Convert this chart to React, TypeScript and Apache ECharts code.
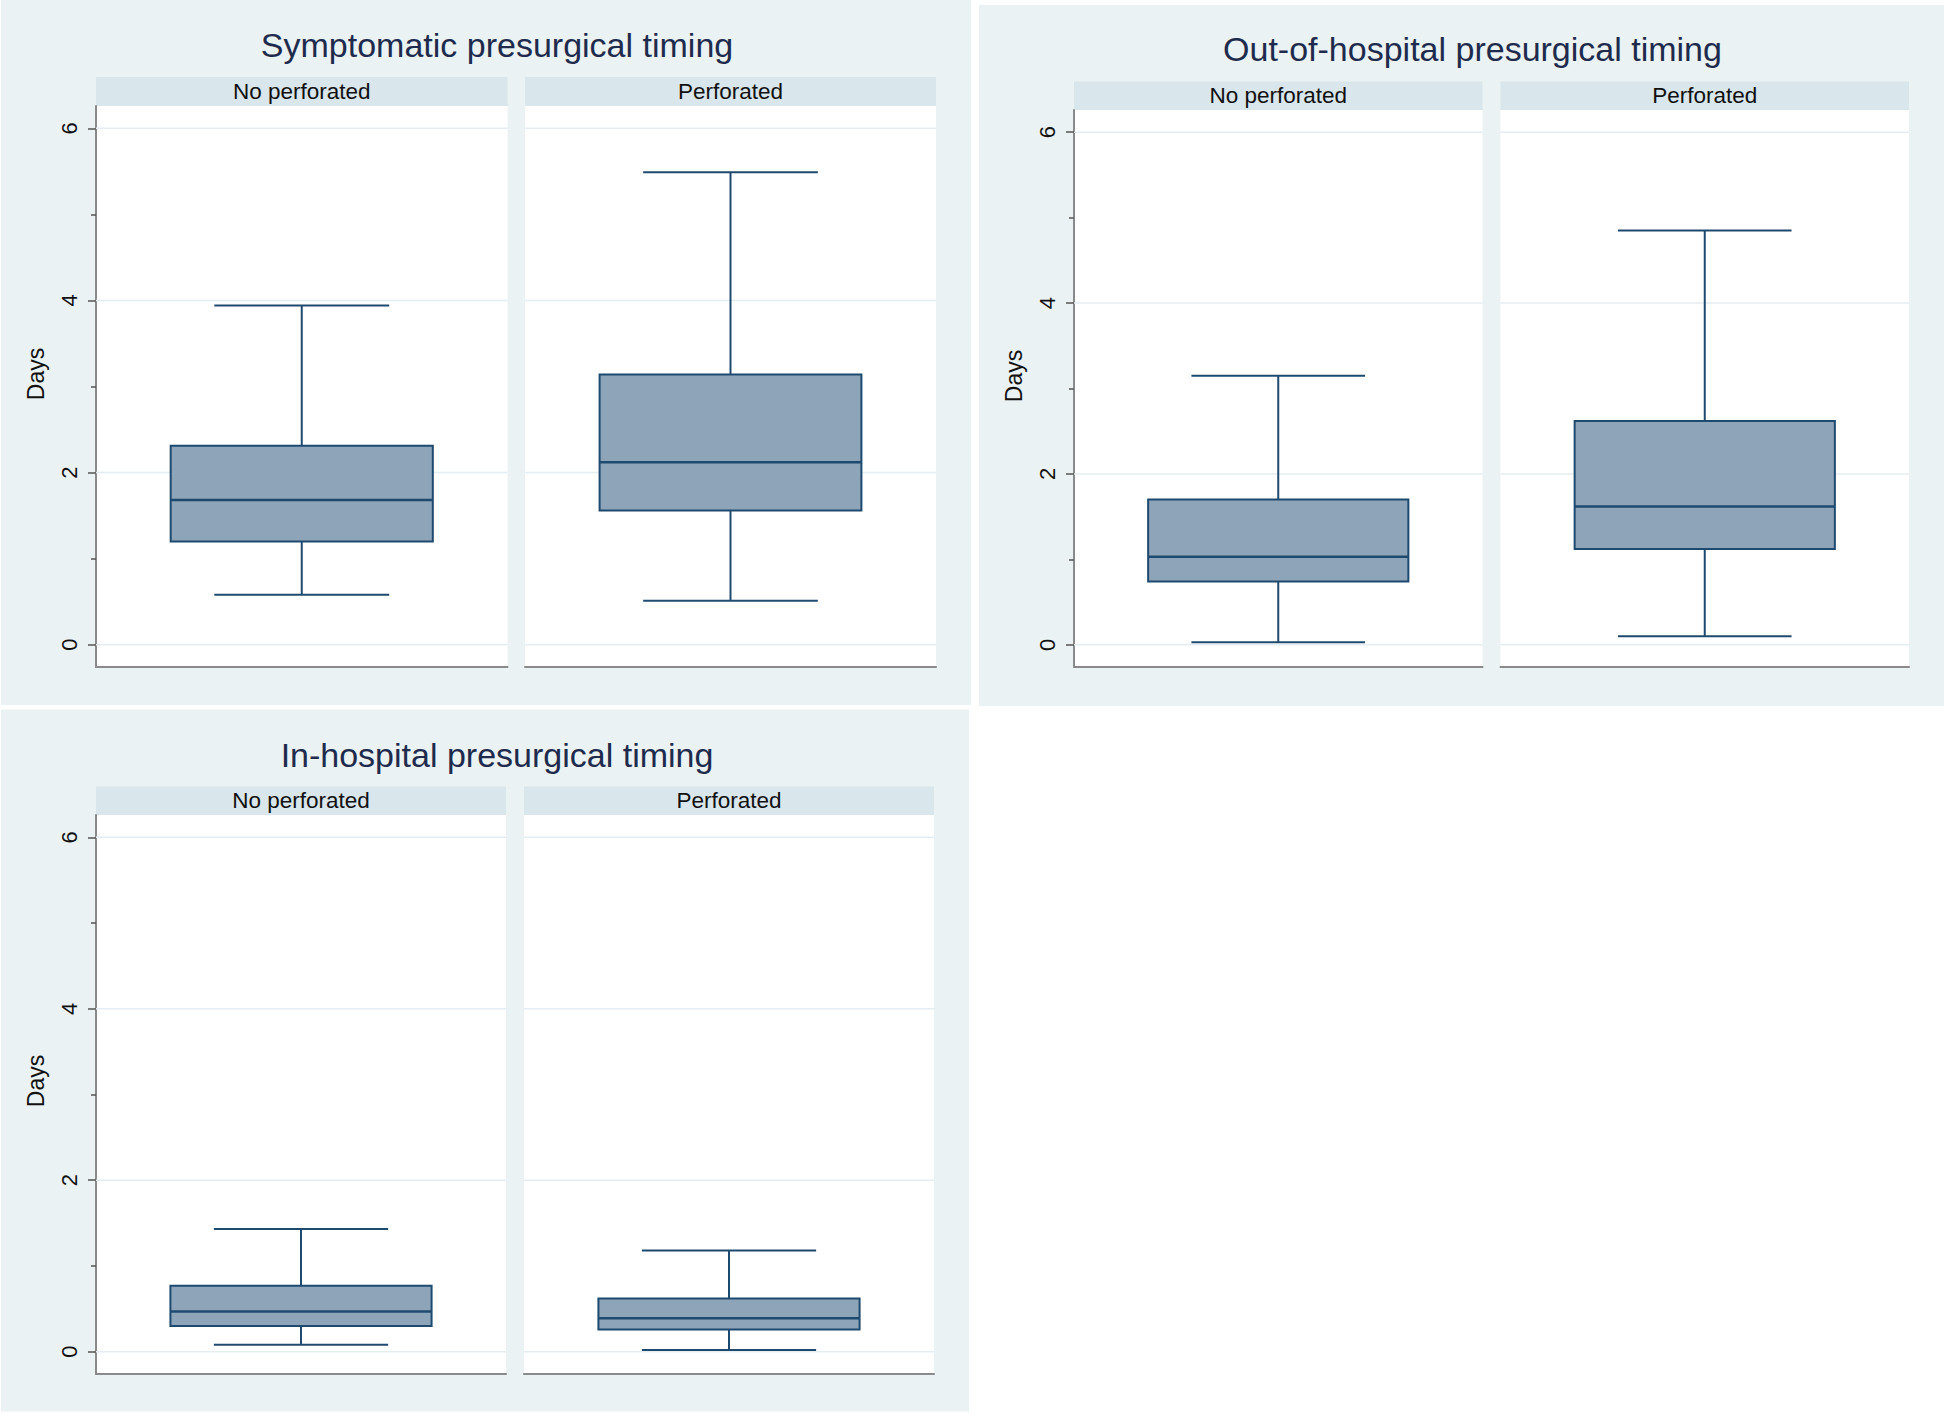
import React, { useEffect, useRef } from 'react';
import * as echarts from 'echarts';

// ---------- data ----------
const categories = ['No perforated', 'Perforated'];
const panelTitles = [
  'Symptomatic presurgical timing',
  'Out-of-hospital presurgical timing',
  'In-hospital presurgical timing',
];
// [lower whisker, Q1, median, Q3, upper whisker] in days
const symptomaticNoPerf = [0.58, 1.2, 1.68, 2.31, 3.94];
const symptomaticPerf = [0.51, 1.56, 2.12, 3.14, 5.49];
const outHospitalNoPerf = [0.03, 0.74, 1.03, 1.7, 3.15];
const outHospitalPerf = [0.1, 1.12, 1.62, 2.62, 4.85];
const inHospitalNoPerf = [0.08, 0.3, 0.47, 0.77, 1.43];
const inHospitalPerf = [0.02, 0.26, 0.39, 0.62, 1.18];
const yTickValues = [0, 2, 4, 6];
const yMinorTickValues = [1, 3, 5];
const yAxisTitle = 'Days';
const yMin = -0.26;
const yMax = 6.26;

// ---------- styles / layout ----------
const FONT = '"Liberation Sans", Arial, sans-serif';
const PANEL_BG = '#eaf2f3';
const STRIP_BG = '#d9e6eb';
const GRID_LINE = '#e4edf1';
const AXIS_LINE = '#8a8a8a';
const BOX_FILL = '#8ea4b8';
const BOX_LINE = '#1f4a6f';
const TITLE_COLOR = '#1e2b4d';

const layout = [
  { bg: [1, 0, 970, 705], titleX: 497, titleY: 45, stripTop: 77, plotTop: 106, plotBottom: 667, subs: [[96, 507.5], [525, 936]], daysX: 36, daysY: 374 },
  { bg: [979, 5, 965, 701], titleX: 1472.5, titleY: 49, stripTop: 81.5, plotTop: 110, plotBottom: 667, subs: [[1074, 1482.5], [1500.5, 1909]], daysX: 1014, daysY: 376 },
  { bg: [1, 709.5, 968, 702], titleX: 497, titleY: 755, stripTop: 786.5, plotTop: 815, plotBottom: 1374, subs: [[96, 506], [524, 934]], daysX: 36, daysY: 1081 },
];

const boxes = [
  [symptomaticNoPerf, symptomaticPerf],
  [outHospitalNoPerf, outHospitalPerf],
  [inHospitalNoPerf, inHospitalPerf],
];

const renderBox = (params: any, api: any) => {
  const xi = api.value(0);
  const lo = api.coord([xi, api.value(1)]);
  const q1 = api.coord([xi, api.value(2)]);
  const md = api.coord([xi, api.value(3)]);
  const q3 = api.coord([xi, api.value(4)]);
  const hi = api.coord([xi, api.value(5)]);
  const band = api.size([1, 0])[0];
  const bw = band * 0.637;
  const cw = band * 0.425;
  const cx = md[0];
  const cs = params.coordSys;
  const children: any[] = [];
  yTickValues.forEach((v) => {
    const p = api.coord([xi, v]);
    children.push({
      type: 'line',
      shape: { x1: cs.x, y1: p[1], x2: cs.x + cs.width, y2: p[1] },
      style: { stroke: GRID_LINE, lineWidth: 1.5 },
    });
  });
  const ls = { stroke: BOX_LINE, lineWidth: 2 };
  children.push({ type: 'line', shape: { x1: cx, y1: q3[1], x2: cx, y2: hi[1] }, style: ls });
  children.push({ type: 'line', shape: { x1: cx, y1: q1[1], x2: cx, y2: lo[1] }, style: ls });
  children.push({ type: 'line', shape: { x1: cx - cw / 2, y1: hi[1], x2: cx + cw / 2, y2: hi[1] }, style: ls });
  children.push({ type: 'line', shape: { x1: cx - cw / 2, y1: lo[1], x2: cx + cw / 2, y2: lo[1] }, style: ls });
  children.push({
    type: 'rect',
    shape: { x: cx - bw / 2, y: q3[1], width: bw, height: q1[1] - q3[1] },
    style: { fill: BOX_FILL, stroke: BOX_LINE, lineWidth: 2 },
  });
  children.push({ type: 'line', shape: { x1: cx - bw / 2, y1: md[1], x2: cx + bw / 2, y2: md[1] }, style: { stroke: BOX_LINE, lineWidth: 2.5 } });
  return { type: 'group', children };
};

function buildOption() {
  const grids: any[] = [];
  const xAxes: any[] = [];
  const yAxes: any[] = [];
  const series: any[] = [];
  const elements: any[] = [];
  const minorAxes: any[] = [];

  layout.forEach((p, pi) => {
    elements.push({
      type: 'rect',
      z: -10,
      shape: { x: p.bg[0], y: p.bg[1], width: p.bg[2], height: p.bg[3] },
      style: { fill: PANEL_BG },
    });
    elements.push({
      type: 'text',
      z: 10,
      x: p.titleX,
      y: p.titleY,
      style: {
        text: panelTitles[pi], fill: TITLE_COLOR, fontSize: 34, fontFamily: FONT,
        align: 'center', verticalAlign: 'middle', textAlign: 'center', textVerticalAlign: 'middle',
      },
    });
    elements.push({
      type: 'text',
      z: 10,
      x: p.daysX,
      y: p.daysY,
      rotation: Math.PI / 2,
      style: {
        text: yAxisTitle, fill: '#111', fontSize: 23, fontFamily: FONT,
        align: 'center', verticalAlign: 'middle', textAlign: 'center', textVerticalAlign: 'middle',
      },
    });
    p.subs.forEach((s, si) => {
      const g = pi * 2 + si;
      elements.push({
        type: 'rect',
        z: -5,
        shape: { x: s[0], y: p.stripTop, width: s[1] - s[0], height: p.plotTop - p.stripTop },
        style: { fill: STRIP_BG },
      });
      elements.push({
        type: 'text',
        z: 10,
        x: (s[0] + s[1]) / 2,
        y: (p.stripTop + p.plotTop) / 2,
        style: {
          text: categories[si], fill: '#111', fontSize: 22.5, fontFamily: FONT,
          align: 'center', verticalAlign: 'middle', textAlign: 'center', textVerticalAlign: 'middle',
        },
      });
      grids.push({
        left: s[0], top: p.plotTop, width: s[1] - s[0], height: p.plotBottom - p.plotTop,
        show: true, backgroundColor: '#ffffff', borderWidth: 0,
      });
      xAxes.push({
        type: 'category', gridIndex: g, data: [categories[si]], boundaryGap: true,
        axisLine: { show: true, onZero: false, lineStyle: { color: AXIS_LINE, width: 2 } },
        axisTick: { show: false }, axisLabel: { show: false }, splitLine: { show: false },
      });
      yAxes.push({
        type: 'value', gridIndex: g, min: yMin, max: yMax, show: si === 0, position: 'left',
        axisLine: { show: true, onZero: false, lineStyle: { color: AXIS_LINE, width: 2 } },
        axisTick: { show: true, customValues: yTickValues, length: 8, lineStyle: { color: '#555', width: 1.5 } },
        axisLabel: { show: true, customValues: yTickValues, rotate: 90, margin: 16, fontSize: 22, color: '#111', fontFamily: FONT },
        splitLine: { show: false },
      });
      if (si === 0) {
        minorAxes.push({
          type: 'value', gridIndex: g, min: yMin, max: yMax, position: 'left',
          axisLine: { show: false, onZero: false },
          axisTick: { show: true, customValues: yMinorTickValues, length: 5, lineStyle: { color: '#555', width: 1.5 } },
          axisLabel: { show: false }, splitLine: { show: false },
        });
      }
      series.push({
        type: 'custom', xAxisIndex: g, yAxisIndex: g, silent: true, clip: false,
        data: [[0, ...boxes[pi][si]]],
        encode: { x: 0, y: [1, 2, 3, 4, 5] },
        renderItem: renderBox,
      });
    });
  });

  return {
    animation: false,
    backgroundColor: '#ffffff',
    grid: grids,
    xAxis: xAxes,
    yAxis: [...yAxes, ...minorAxes],
    series,
    graphic: { elements },
  };
}

export default function App() {
  const ref = useRef<HTMLDivElement>(null);
  useEffect(() => {
    if (!ref.current) return;
    const chart = echarts.init(ref.current, undefined, { renderer: 'svg' });
    chart.setOption(buildOption() as any);
    return () => chart.dispose();
  }, []);
  return (
    <div
      ref={ref}
      style={{ position: 'fixed', left: 0, top: 0, width: 1944, height: 1414, background: '#fff' }}
    />
  );
}
